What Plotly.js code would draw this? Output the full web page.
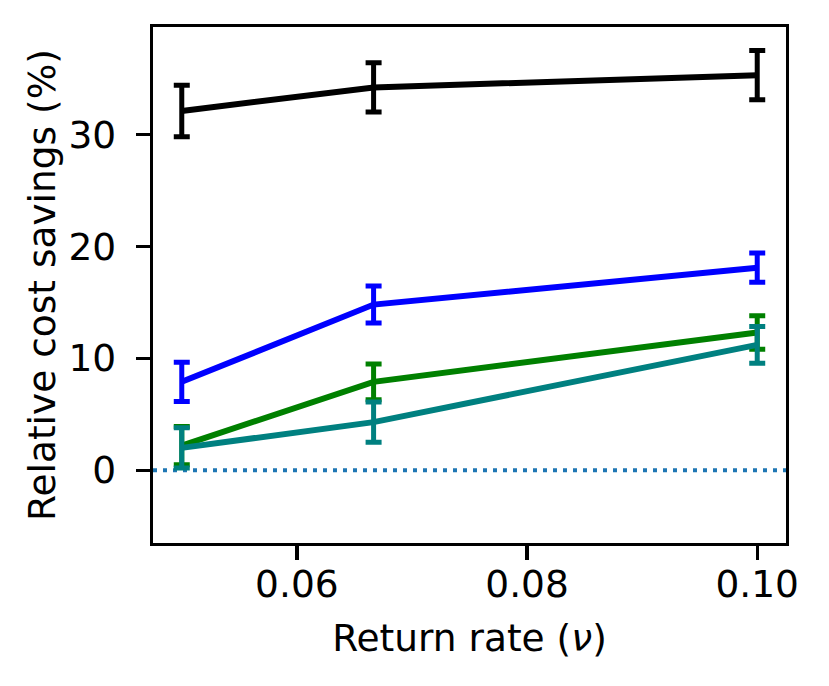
<!DOCTYPE html>
<html><head><meta charset="utf-8">
<script src="https://cdn.plot.ly/plotly-3.0.1.min.js"></script>
<style>html,body{margin:0;padding:0;background:#fff}#chart{width:829px;height:686px}</style>
</head><body><div id="chart"></div>
<script>
var returnRates = [0.05, 1/15, 0.10];
var blackVals = [32.1, 34.2, 35.3];
var blackErr = [2.3, 2.2, 2.2];
var blueVals = [7.9, 14.8, 18.1];
var blueErr = [1.75, 1.65, 1.3];
var greenVals = [2.2, 7.9, 12.3];
var greenErr = [1.7, 1.6, 1.5];
var tealVals = [2.0, 4.3, 11.2];
var tealErr = [1.8, 1.8, 1.65];
var baselineY = 0;

function series(y, err, color) {
  return {
    x: returnRates, y: y, type: 'scatter', mode: 'lines',
    line: {color: color, width: 6},
    error_y: {type: 'data', array: err, visible: true, color: color, thickness: 5, width: 8},
    showlegend: false, hoverinfo: 'skip'
  };
}
var data = [
  series(blackVals, blackErr, '#000000'),
  series(blueVals, blueErr, '#0000ff'),
  series(greenVals, greenErr, '#008000'),
  series(tealVals, tealErr, '#008080')
];
var font = {family: 'DejaVu Sans', size: 37.5, color: '#000'};
var layout = {
  width: 829, height: 686,
  margin: {l: 153, r: 43, t: 27, b: 143},
  paper_bgcolor: '#fff', plot_bgcolor: '#fff',
  font: font,
  xaxis: {
    range: [0.0475, 0.1025], tick0: 0, dtick: 0.02, tickformat: '.2f',
    showgrid: false, zeroline: false, showline: true, mirror: true,
    linecolor: '#000', linewidth: 3.3, ticks: 'outside', ticklen: 14, tickwidth: 3.3, tickcolor: '#000',
    ticklabelstandoff: -8,
    tickfont: font,
    title: {text: 'Return rate (<i>ν</i>)', font: font, standoff: 20}
  },
  yaxis: {
    range: [-6.5, 39.6], tick0: 0, dtick: 10,
    showgrid: false, zeroline: false, showline: true, mirror: true,
    linecolor: '#000', linewidth: 3.3, ticks: 'outside', ticklen: 14, tickwidth: 3.3, tickcolor: '#000',
    ticklabelstandoff: 12,
    tickfont: font,
    title: {text: 'Relative cost savings (%)', font: font, standoff: 2}
  },
  shapes: [{
    type: 'line', xref: 'paper', x0: 0, x1: 1, yref: 'y', y0: baselineY, y1: baselineY,
    line: {color: '#1f77b4', width: 4, dash: '4px,6px'}, layer: 'below'
  }]
};
Plotly.newPlot('chart', data, layout, {staticPlot: true, displayModeBar: false});
</script></body></html>
